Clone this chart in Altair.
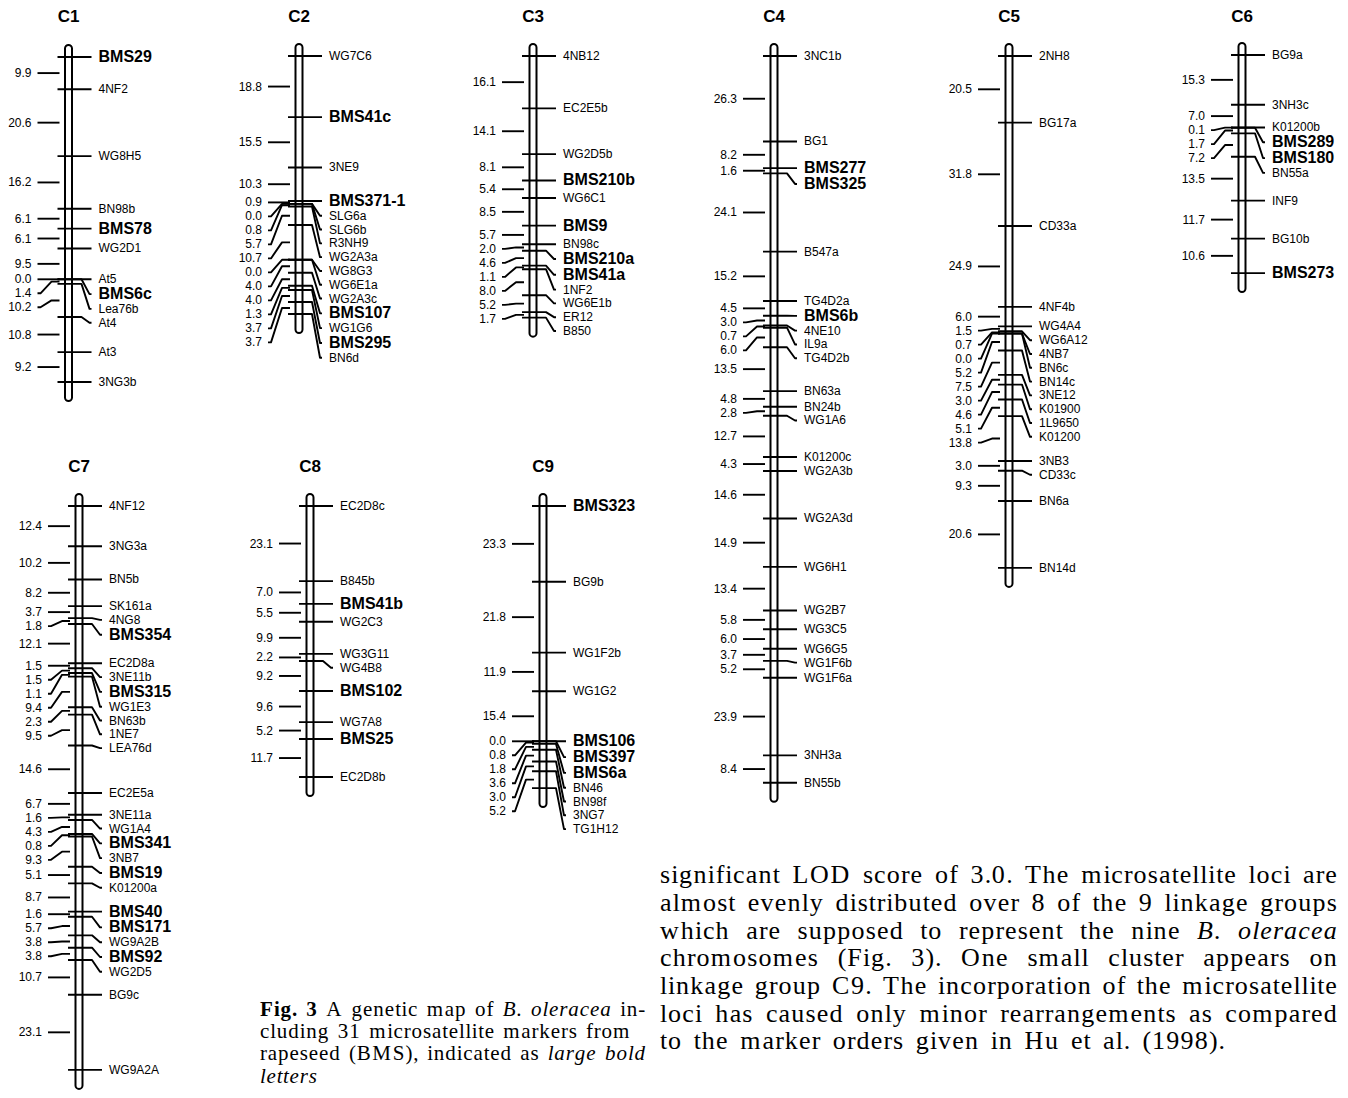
import altair as alt
import pandas as pd

# ---------------- data: markers (top to bottom) and interval distances (cM) ----------------
C1_markers = ["BMS29", "4NF2", "WG8H5", "BN98b", "BMS78", "WG2D1", "At5", "BMS6c", "Lea76b", "At4", "At3", "3NG3b"]
C1_dist = [9.9, 20.6, 16.2, 6.1, 6.1, 9.5, 0.0, 1.4, 10.2, 10.8, 9.2]

C2_markers = ["WG7C6", "BMS41c", "3NE9", "BMS371-1", "SLG6a", "SLG6b", "R3NH9", "WG2A3a", "WG8G3", "WG6E1a",
              "WG2A3c", "BMS107", "WG1G6", "BMS295", "BN6d"]
C2_dist = [18.8, 15.5, 10.3, 0.9, 0.0, 0.8, 5.7, 10.7, 0.0, 4.0, 4.0, 1.3, 3.7, 3.7]

C3_markers = ["4NB12", "EC2E5b", "WG2D5b", "BMS210b", "WG6C1", "BMS9", "BN98c", "BMS210a", "BMS41a", "1NF2",
              "WG6E1b", "ER12", "B850"]
C3_dist = [16.1, 14.1, 8.1, 5.4, 8.5, 5.7, 2.0, 4.6, 1.1, 8.0, 5.2, 1.7]

C4_markers = ["3NC1b", "BG1", "BMS277", "BMS325", "B547a", "TG4D2a", "BMS6b", "4NE10", "IL9a", "TG4D2b", "BN63a",
              "BN24b", "WG1A6", "K01200c", "WG2A3b", "WG2A3d", "WG6H1", "WG2B7", "WG3C5", "WG6G5", "WG1F6b",
              "WG1F6a", "3NH3a", "BN55b"]
C4_dist = [26.3, 8.2, 1.6, 24.1, 15.2, 4.5, 3.0, 0.7, 6.0, 13.5, 4.8, 2.8, 12.7, 4.3, 14.6, 14.9, 13.4, 5.8, 6.0,
           3.7, 5.2, 23.9, 8.4]

C5_markers = ["2NH8", "BG17a", "CD33a", "4NF4b", "WG4A4", "WG6A12", "4NB7", "BN6c", "BN14c", "3NE12", "K01900",
              "1L9650", "K01200", "3NB3", "CD33c", "BN6a", "BN14d"]
C5_dist = [20.5, 31.8, 24.9, 6.0, 1.5, 0.7, 0.0, 5.2, 7.5, 3.0, 4.6, 5.1, 13.8, 3.0, 9.3, 20.6]

C6_markers = ["BG9a", "3NH3c", "K01200b", "BMS289", "BMS180", "BN55a", "INF9", "BG10b", "BMS273"]
C6_dist = [15.3, 7.0, 0.1, 1.7, 7.2, 13.5, 11.7, 10.6]

C7_markers = ["4NF12", "3NG3a", "BN5b", "SK161a", "4NG8", "BMS354", "EC2D8a", "3NE11b", "BMS315", "WG1E3", "BN63b",
              "1NE7", "LEA76d", "EC2E5a", "3NE11a", "WG1A4", "BMS341", "3NB7", "BMS19", "K01200a", "BMS40",
              "BMS171", "WG9A2B", "BMS92", "WG2D5", "BG9c", "WG9A2A"]
C7_dist = [12.4, 10.2, 8.2, 3.7, 1.8, 12.1, 1.5, 1.5, 1.1, 9.4, 2.3, 9.5, 14.6, 6.7, 1.6, 4.3, 0.8, 9.3, 5.1, 8.7,
           1.6, 5.7, 3.8, 3.8, 10.7, 23.1]

C8_markers = ["EC2D8c", "B845b", "BMS41b", "WG2C3", "WG3G11", "WG4B8", "BMS102", "WG7A8", "BMS25", "EC2D8b"]
C8_dist = [23.1, 7.0, 5.5, 9.9, 2.2, 9.2, 9.6, 5.2, 11.7]

C9_markers = ["BMS323", "BG9b", "WG1F2b", "WG1G2", "BMS106", "BMS397", "BMS6a", "BN46", "BN98f", "3NG7", "TG1H12"]
C9_dist = [23.3, 21.8, 11.9, 15.4, 0.0, 0.8, 1.8, 3.6, 3.0, 5.2]

GROUP_NAMES = ["C1", "C2", "C3", "C4", "C5", "C6", "C7", "C8", "C9"]
GROUP_MARKERS = [C1_markers, C2_markers, C3_markers, C4_markers, C5_markers, C6_markers, C7_markers, C8_markers,
                 C9_markers]
GROUP_DISTS = [C1_dist, C2_dist, C3_dist, C4_dist, C5_dist, C6_dist, C7_dist, C8_dist, C9_dist]

CAPTION_LINES = [
    [("Fig.", "b"), ("3", "b"), ("A", "r"), ("genetic", "r"), ("map", "r"), ("of", "r"), ("B.", "i"),
     ("oleracea", "i"), ("in-", "r")],
    [("cluding", "r"), ("31", "r"), ("microsatellite", "r"), ("markers", "r"), ("from", "r")],
    [("rapeseed", "r"), ("(BMS),", "r"), ("indicated", "r"), ("as", "r"), ("large", "i"), ("bold", "i")],
    [("letters", "i")],
]
PARA_LINES = [
    "significant LOD score of 3.0. The microsatellite loci are",
    "almost evenly distributed over 8 of the 9 linkage groups",
    "which are supposed to represent the nine *B.* *oleracea*",
    "chromosomes (Fig. 3). One small cluster appears on",
    "linkage group C9. The incorporation of the microsatellite",
    "loci has caused only minor rearrangements as compared",
    "to the marker orders given in Hu et al. (1998).",
]

# ---------------- layout (page pixels) ----------------
W, H = 1332, 1082
OFF = 8
PX_PER_CM = 3.25
H_CM = H / PX_PER_CM

def lx(page_x):
    return page_x - OFF

def ly(page_y):
    return (page_y - OFF) / PX_PER_CM

# center x, first-marker y, title y
LAYOUT = {
    "C1": (68.5, 57, 17), "C2": (299, 56, 17), "C3": (533, 56, 17),
    "C4": (774, 56, 17), "C5": (1009, 56, 17), "C6": (1242, 55, 17),
    "C7": (79, 506, 467), "C8": (310, 506, 467), "C9": (543, 506, 467),
}
HALF_N = 6.9 / PX_PER_CM
HALF_B = 7.9 / PX_PER_CM
LGAP = 14.0 / PX_PER_CM
TOP_PAD = 12 / PX_PER_CM
BOT_PAD = 19 / PX_PER_CM

bars, lines, rlab, llab, titles = [], [], [], [], []
seg = 0
for name, markers, dist in zip(GROUP_NAMES, GROUP_MARKERS, GROUP_DISTS):
    cxp, topp, titp = LAYOUT[name]
    cx = lx(cxp)
    top = ly(topp)
    pos = [0.0]
    for d in dist:
        pos.append(pos[-1] + d)
    yt = [top + p for p in pos]
    bars.append({"x": cx - 3.5, "x2": cx + 3.5, "y": top - TOP_PAD, "y2": yt[-1] + BOT_PAD})
    titles.append({"x": cx, "y": ly(titp), "t": name})
    # right labels, pushed down when crowded
    yl = []
    for i, m in enumerate(markers):
        b = m.startswith("BMS")
        if i == 0:
            yl.append(yt[0])
        else:
            pb = markers[i - 1].startswith("BMS")
            g = (HALF_B if pb else HALF_N) + (HALF_B if b else HALF_N)
            yl.append(max(yt[i], yl[-1] + g))
        rlab.append({"x": cx + 30, "y": yl[i], "t": m, "bold": b})
        if abs(yl[i] - yt[i]) < 1e-9:
            pts = [(cx - 11, yt[i]), (cx + 23, yt[i])]
        else:
            pts = [(cx - 11, yt[i]), (cx + 13, yt[i]), (cx + 21, yl[i]), (cx + 23, yl[i])]
        for k, (x, y) in enumerate(pts):
            lines.append({"seg": seg, "o": k, "x": x, "y": y})
        seg += 1
    # left distance labels at interval midpoints
    ll = []
    for i, d in enumerate(dist):
        mid = top + (pos[i] + pos[i + 1]) / 2
        ll.append(mid if i == 0 else max(mid, ll[-1] + LGAP))
        llab.append({"x": cx - 37, "y": ll[i], "t": f"{d:.1f}"})
        if abs(ll[i] - mid) < 1e-9:
            pts = [(cx - 31, mid), (cx - 9, mid)]
        else:
            pts = [(cx - 31, ll[i]), (cx - 28, ll[i]), (cx - 17, mid), (cx - 9, mid)]
        for k, (x, y) in enumerate(pts):
            lines.append({"seg": seg, "o": k, "x": x, "y": y})
        seg += 1

# ---------------- text blocks (Times metrics, Liberation Serif), glyph-by-glyph ----------------
TR = dict(zip("abcdefghijklmnopqrstuvwxyz",
              [444, 500, 444, 500, 444, 333, 500, 500, 278, 278, 500, 278, 778, 500, 500, 500, 500, 333, 389,
               278, 500, 500, 722, 500, 500, 444]))
TR.update({"A": 722, "B": 667, "C": 667, "D": 722, "F": 556, "H": 722, "L": 611, "M": 889, "O": 722, "S": 556,
           "T": 611, "(": 333, ")": 333, ",": 250, ".": 250, "-": 333, " ": 250})
TR.update({d: 500 for d in "0123456789"})
TI = dict(zip("abcdefghijklmnopqrstuvwxyz",
              [500, 500, 444, 500, 444, 278, 500, 500, 278, 278, 444, 278, 722, 500, 500, 500, 500, 389, 389,
               278, 500, 444, 667, 444, 444, 389]))
TI.update({"B": 611, ".": 250, " ": 250})
TB = dict(TR)
TB.update({"F": 611, "a": 500, "i": 278, "g": 500})
TABLES = {"r": TR, "i": TI, "b": TB}

texts = []
TRACK = 1.1  # slight tracking: the printed text is wider than Times at this size

def word_width(w, s, fs):
    return sum(TABLES[s].get(c, 500) for c in w) * fs / 1000.0 * TRACK

def place_line(words, left, right, ypage, fs, space=None):
    widths = [word_width(w, s, fs) for w, s in words]
    if space is None:
        space = (right - left - sum(widths)) / max(len(words) - 1, 1)
    x = left
    for (w, s), wd in zip(words, widths):
        cx = x
        for c in w:
            texts.append({"x": lx(cx), "y": ly(ypage), "t": c, "s": s, "fs": fs})
            cx += TABLES[s].get(c, 500) * fs / 1000.0 * TRACK
        x += wd + space
    return space

CAP_FS = 21
CAP_Y = [1010, 1032, 1054, 1077]
cap_sp = []
for i in (0, 2):
    cap_sp.append(place_line(CAPTION_LINES[i], 260, 646, CAP_Y[i], CAP_FS))
for i in (1, 3):
    place_line(CAPTION_LINES[i], 260, 646, CAP_Y[i], CAP_FS, space=sum(cap_sp) / len(cap_sp))

PARA_FS = 26
PARA_Y = [875, 903, 931, 958, 986, 1014, 1041]
par_sp = []
for i, line in enumerate(PARA_LINES):
    words = [(w.strip("*"), "i" if w.startswith("*") else "r") for w in line.split(" ")]
    if i < len(PARA_LINES) - 1:
        par_sp.append(place_line(words, 660, 1338, PARA_Y[i], PARA_FS))
    else:
        place_line(words, 660, 1338, PARA_Y[i], PARA_FS, space=sum(par_sp) / len(par_sp) * 0.85)

# ---------------- chart ----------------
XS = alt.Scale(domain=[0, W], nice=False, zero=False)
YS = alt.Scale(domain=[0, H_CM], nice=False, zero=False, reverse=True)

def X(f="x"):
    return alt.X(f"{f}:Q", scale=XS, axis=None)

def Y(f="y"):
    return alt.Y(f"{f}:Q", scale=YS, axis=None)

bar_layer = alt.Chart(pd.DataFrame(bars)).mark_rect(
    fill="white", stroke="black", strokeWidth=2, cornerRadius=3.5
).encode(x=X(), x2="x2:Q", y=Y(), y2="y2:Q")

line_layer = alt.Chart(pd.DataFrame(lines)).mark_line(
    color="black", strokeWidth=1.9, strokeCap="butt", strokeJoin="round"
).encode(x=X(), y=Y(), detail="seg:N", order="o:Q")

rl = pd.DataFrame(rlab)
rnorm = alt.Chart(rl[~rl["bold"]]).mark_text(
    align="left", baseline="middle", font="Liberation Sans", fontSize=12, color="black"
).encode(x=X(), y=Y(), text="t:N")
rbold = alt.Chart(rl[rl["bold"]]).mark_text(
    align="left", baseline="middle", font="Liberation Sans", fontSize=16, fontWeight="bold", color="black"
).encode(x=X(), y=Y(), text="t:N")
left_layer = alt.Chart(pd.DataFrame(llab)).mark_text(
    align="right", baseline="middle", font="Liberation Sans", fontSize=12, color="black"
).encode(x=X(), y=Y(), text="t:N")
title_layer = alt.Chart(pd.DataFrame(titles)).mark_text(
    align="center", baseline="middle", font="Liberation Sans", fontSize=17, fontWeight="bold", color="black"
).encode(x=X(), y=Y(), text="t:N")

tx = pd.DataFrame(texts)

def text_layer(style, fs, **kw):
    return alt.Chart(tx[(tx["s"] == style) & (tx["fs"] == fs)]).mark_text(
        align="left", baseline="middle", font="Liberation Serif", fontSize=fs, color="black", **kw
    ).encode(x=X(), y=Y(), text="t:N")

cap_r = text_layer("r", CAP_FS)
cap_i = text_layer("i", CAP_FS, fontStyle="italic")
cap_b = text_layer("b", CAP_FS, fontWeight="bold")
par_r = text_layer("r", PARA_FS)
par_i = text_layer("i", PARA_FS, fontStyle="italic")

chart = alt.layer(
    bar_layer, line_layer, rnorm, rbold, left_layer, title_layer, cap_r, cap_i, cap_b, par_r, par_i
).properties(
    width=W, height=H, autosize=alt.AutoSizeParams(type="none"),
    padding={"left": 0, "top": 0, "right": 0, "bottom": 0},
).configure_view(stroke=None)

chart.save("out.html", embed_options={"renderer": "svg", "actions": False})
